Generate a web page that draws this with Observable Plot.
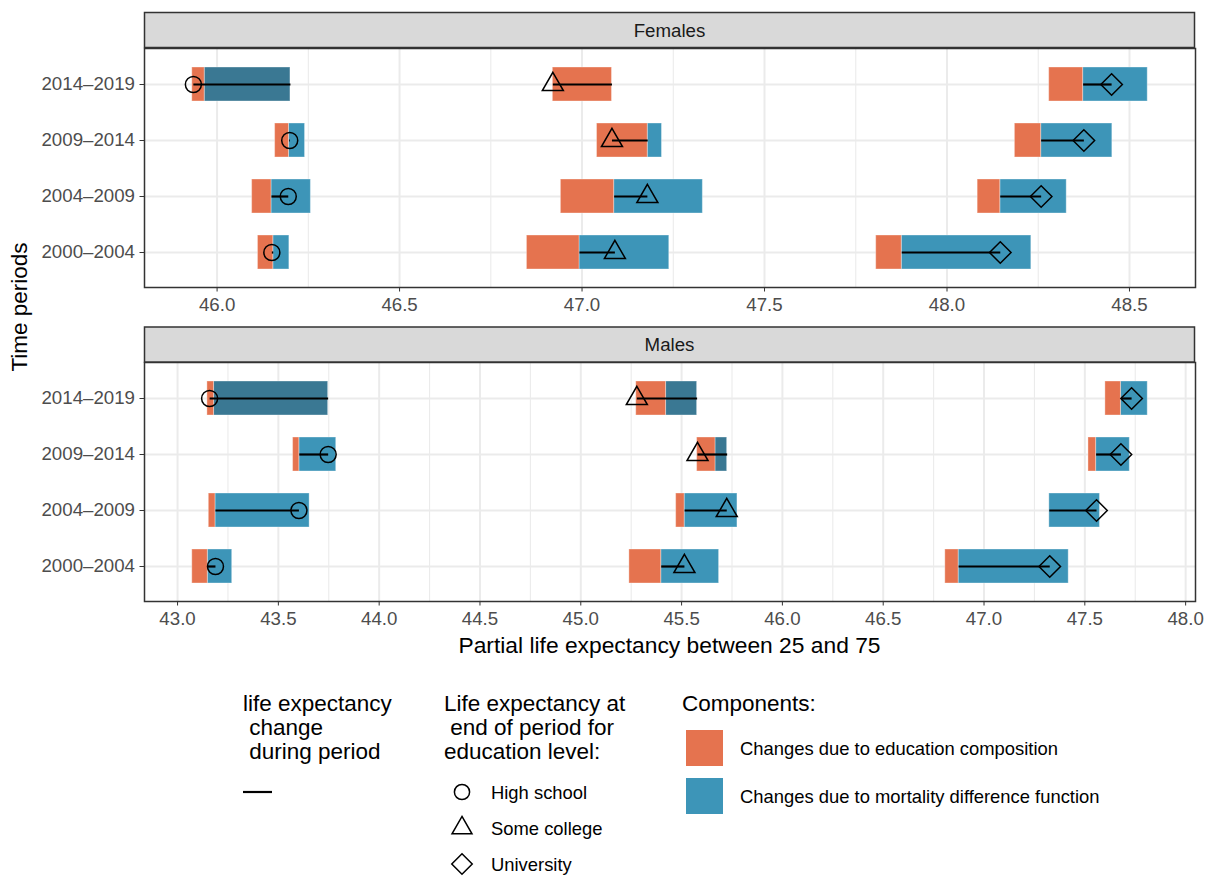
<!DOCTYPE html>
<html><head><meta charset="utf-8">
<script src="https://cdn.jsdelivr.net/npm/d3@7"></script>
<script src="https://cdn.jsdelivr.net/npm/@observablehq/plot@0.6"></script>
<style>
body{margin:0;background:#fff;}
#root{position:relative;width:1209px;height:876px;font-family:"Liberation Sans",Arial,sans-serif;}
#root > svg{position:absolute;left:0;}
</style></head><body><div id="root"></div>
<script>
// ---------- DATA ----------
const periods = ["2000–2004", "2004–2009", "2009–2014", "2014–2019"];
const eduLevels = ["High school", "Some college", "University"];
const componentNames = ["Changes due to education composition", "Changes due to mortality difference function"];
const sexes = ["Females", "Males"];
const femaleTicks = [46.0, 46.5, 47.0, 47.5, 48.0, 48.5];
const maleTicks = [43.0, 43.5, 44.0, 44.5, 45.0, 45.5, 46.0, 46.5, 47.0, 47.5, 48.0];

// rows = education level (HS, Some college, University); columns = periods
const femaleStart = [
  [46.154, 46.149, 46.197, 46.201],
  [46.993, 47.088, 47.180, 47.082],
  [47.876, 48.146, 48.258, 48.373]
];
const femaleEdu = [
  [-0.042, -0.053, -0.038, -0.034],
  [-0.144, -0.146, -0.139, -0.162],
  [-0.070, -0.062, -0.072, -0.093]
];
const femaleMort = [
  [0.044, 0.108, 0.044, -0.235],
  [0.246, 0.243, 0.039, 0.000],
  [0.355, 0.182, 0.195, 0.177]
];
const femaleEnd = [
  [46.150, 46.195, 46.199, 45.935],
  [47.090, 47.179, 47.082, 46.920],
  [48.146, 48.258, 48.375, 48.451]
];

const maleStart = [
  [43.150, 43.188, 43.604, 43.747],
  [45.399, 45.515, 45.726, 45.577],
  [46.874, 47.324, 47.556, 47.679]
];
const maleEdu = [
  [-0.077, -0.033, -0.031, -0.033],
  [-0.158, -0.042, -0.091, -0.148],
  [-0.066, 0.000, -0.038, -0.077]
];
const maleMort = [
  [0.121, 0.467, 0.183, -0.566],
  [0.287, 0.262, -0.058, -0.154],
  [0.546, 0.251, 0.167, 0.133]
];
const maleEnd = [
  [43.188, 43.602, 43.747, 43.159],
  [45.514, 45.724, 45.579, 45.278],
  [47.326, 47.558, 47.679, 47.732]
];

// ---------- STYLE ----------
const ORANGE = "#E5734F", BLUE = "#3D95B8", DARKBLUE = "#3A7893";
const FONT = '"Liberation Sans", Arial, sans-serif';
const symbolOf = {"High school": "circle", "Some college": "triangle", "University": "diamond2"};
const rOf = {"High school": 8, "Some college": 7.8, "University": 9.7};
const d3SymbolOf = {"High school": d3.symbolCircle, "Some college": d3.symbolTriangle, "University": d3.symbolDiamond2};

function buildRows(start, edu, mort, end) {
  const rows = [], bars = [];
  eduLevels.forEach((e, i) => {
    periods.forEach((p, j) => {
      const s = start[i][j];
      rows.push({edu: e, period: p, start: s, end: end[i][j]});
      let pos = s, neg = s;
      [["mort", mort[i][j]], ["edu", edu[i][j]]].forEach(([c, v]) => {
        let x1, x2;
        if (v >= 0) { x1 = pos; x2 = pos + v; pos = x2; }
        else { x1 = neg; x2 = neg + v; neg = x2; }
        const color = c === "edu" ? ORANGE : (v < 0 ? DARKBLUE : BLUE);
        bars.push({period: p, edu: e, comp: c, x1, x2, color});
      });
    });
  });
  return {rows, bars};
}

function panel({rows, bars}, ticks, height, marginTop, marginBottom) {
  const vals = bars.flatMap(b => [b.x1, b.x2]).concat(rows.map(r => r.end), rows.map(r => r.start));
  const lo = d3.min(vals), hi = d3.max(vals), pad = (hi - lo) * 0.05;
  const minor = d3.pairs(ticks).map(([a, b]) => (a + b) / 2);
  if (ticks[0] - 0.25 > lo - pad) minor.unshift(ticks[0] - 0.25);
  if (ticks[ticks.length - 1] + 0.25 < hi + pad) minor.push(ticks[ticks.length - 1] + 0.25);
  const marks = [
    Plot.ruleX(minor, {x: d => d, stroke: "#EBEBEB", strokeWidth: 1.1}),
    Plot.ruleX(ticks, {x: d => d, stroke: "#EBEBEB", strokeWidth: 2}),
    Plot.gridY({stroke: "#EBEBEB", strokeOpacity: 1, strokeWidth: 2}),
    Plot.barX(bars.filter(b => b.x2 !== b.x1), {x1: "x1", x2: "x2", y: "period", fill: "color", stroke: "#ffffff", strokeOpacity: 0.35, strokeWidth: 1}),
    Plot.link(rows, {x1: "start", x2: "end", y1: "period", y2: "period", stroke: "black", strokeWidth: 2.2}),
  ];
  eduLevels.forEach(e => {
    marks.push(Plot.dot(rows.filter(r => r.edu === e), {x: "end", y: "period", symbol: symbolOf[e], r: rOf[e], stroke: "black", strokeWidth: 1.5, fill: "none"}));
  });
  marks.push(
    Plot.frame({stroke: "#333333", strokeWidth: 1.5}),
    Plot.axisX({ticks, tickFormat: d3.format(".1f"), tickSize: 4.5, tickPadding: 6, label: null, fill: "#4D4D4D", stroke: "#333333"}),
    Plot.axisY({tickSize: 4.5, tickPadding: 5, label: null, fill: "#4D4D4D", stroke: "#333333"})
  );
  return Plot.plot({
    width: 1209, height, marginLeft: 144, marginRight: 14, marginTop, marginBottom,
    style: {fontFamily: FONT, fontSize: "18.7px", background: "white", color: "#4D4D4D"},
    x: {domain: [lo - pad, hi + pad]},
    y: {type: "band", domain: periods.slice().reverse(), paddingInner: 0.4, paddingOuter: 0.3},
    color: {type: "identity"},
    marks
  });
}

const root = document.getElementById("root");
const fem = panel(buildRows(femaleStart, femaleEdu, femaleMort, femaleEnd), femaleTicks, 320, 48, 33);
fem.style.top = "0px";
root.appendChild(fem);
const mal = panel(buildRows(maleStart, maleEdu, maleMort, maleEnd), maleTicks, 320, 42, 39);
mal.style.top = "320px";
root.appendChild(mal);

// ---------- OVERLAY: strips, titles, legend ----------
const ov = d3.select(root).append("svg")
  .attr("width", 1209).attr("height", 876)
  .style("top", "0px").style("font-family", FONT);

[[sexes[0], 12.5], [sexes[1], 327]].forEach(([lab, y]) => {
  ov.append("rect").attr("x", 144.5).attr("y", y).attr("width", 1050).attr("height", 35)
    .attr("fill", "#D9D9D9").attr("stroke", "#333333").attr("stroke-width", 1.5);
  ov.append("text").attr("x", 669.5).attr("y", y + 17.5).attr("text-anchor", "middle")
    .attr("dominant-baseline", "central").attr("font-size", 18.7).attr("fill", "#1A1A1A").text(lab);
});

ov.append("text").attr("transform", "translate(19,307) rotate(-90)").attr("text-anchor", "middle")
  .attr("dominant-baseline", "central").attr("font-size", 22.5).attr("fill", "black").text("Time periods");
ov.append("text").attr("x", 669.5).attr("y", 645).attr("text-anchor", "middle")
  .attr("dominant-baseline", "central").attr("font-size", 22.8).attr("fill", "black")
  .text("Partial life expectancy between 25 and 75");

function multiline(x, y0, lines) {
  lines.forEach((l, i) => ov.append("text").attr("x", x).attr("y", y0 + i * 24)
    .attr("dominant-baseline", "central").attr("font-size", 22.5).attr("fill", "black")
    .attr("xml:space", "preserve").style("white-space", "pre").text(l));
}
multiline(243, 703, ["life expectancy", " change", " during period"]);
ov.append("line").attr("x1", 243).attr("x2", 272).attr("y1", 792).attr("y2", 792)
  .attr("stroke", "black").attr("stroke-width", 2.2);

multiline(444, 703, ["Life expectancy at", " end of period for", "education level:"]);
eduLevels.forEach((e, i) => {
  const y = 792 + i * 36;
  const r = rOf[e] * 0.95;
  ov.append("path").attr("transform", `translate(462,${y})`)
    .attr("d", d3.symbol().type(d3SymbolOf[e]).size(Math.PI * r * r)())
    .attr("fill", "none").attr("stroke", "black").attr("stroke-width", 1.5);
  ov.append("text").attr("x", 491).attr("y", y).attr("dominant-baseline", "central")
    .attr("font-size", 18.4).attr("fill", "black").text(e);
});

multiline(682, 703, ["Components:"]);
[[ORANGE, 730], [BLUE, 778]].forEach(([c, y], i) => {
  ov.append("rect").attr("x", 686).attr("y", y).attr("width", 37).attr("height", 36).attr("fill", c);
  ov.append("text").attr("x", 740).attr("y", y + 18).attr("dominant-baseline", "central")
    .attr("font-size", 18.4).attr("fill", "black").text(componentNames[i]);
});
</script></body></html>
